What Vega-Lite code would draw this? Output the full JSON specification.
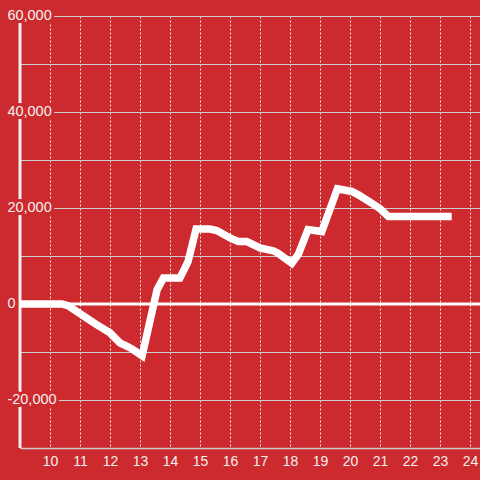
{
  "$schema": "https://vega.github.io/schema/vega-lite/v6.json",
  "width": 460,
  "height": 432,
  "autosize": "none",
  "padding": {"left": 20, "top": 16, "right": 0, "bottom": 32},
  "background": "#cd2a2f",
  "config": {"view": {"stroke": null}, "font": "Liberation Sans"},
  "datasets": {
    "series": [
      {"h": 9, "v": 0}, {"h": 10.4, "v": 0}, {"h": 10.6, "v": -350}, {"h": 11.0, "v": -2000},
      {"h": 11.5, "v": -4100}, {"h": 12.0, "v": -6000}, {"h": 12.33, "v": -8100}, {"h": 12.57, "v": -8800},
      {"h": 12.77, "v": -9500}, {"h": 13.07, "v": -10800}, {"h": 13.57, "v": 3000}, {"h": 13.78, "v": 5400},
      {"h": 14.33, "v": 5400}, {"h": 14.6, "v": 8800}, {"h": 14.87, "v": 15600}, {"h": 15.33, "v": 15600},
      {"h": 15.56, "v": 15300}, {"h": 16.0, "v": 13750}, {"h": 16.28, "v": 13000}, {"h": 16.56, "v": 13000},
      {"h": 17.0, "v": 11700}, {"h": 17.44, "v": 11100}, {"h": 17.6, "v": 10600}, {"h": 18.06, "v": 8500},
      {"h": 18.28, "v": 10400}, {"h": 18.6, "v": 15500}, {"h": 19.06, "v": 15100}, {"h": 19.58, "v": 24000},
      {"h": 20.06, "v": 23450}, {"h": 20.28, "v": 22750}, {"h": 20.72, "v": 21000}, {"h": 21.0, "v": 19850},
      {"h": 21.28, "v": 18250}, {"h": 23.39, "v": 18250}
    ],
    "ylabels": [
      {"v": 60000, "label": "60,000"}, {"v": 40000, "label": "40,000"}, {"v": 20000, "label": "20,000"},
      {"v": 0, "label": "0"}, {"v": -20000, "label": "-20,000"}
    ],
    "one": [{"k": 1}]
  },
  "layer": [
    {
      "data": {"name": "series"},
      "mark": {"type": "line", "color": "#ffffff", "strokeWidth": 7, "strokeCap": "butt", "opacity": 0},
      "encoding": {
        "x": {"field": "h", "type": "quantitative",
          "scale": {"domain": [9, 24.333], "nice": false, "zero": false},
          "axis": {"title": null, "values": [10,11,12,13,14,15,16,17,18,19,20,21,22,23,24],
            "grid": true, "gridColor": "#e8e8e8", "gridDash": [2, 2], "gridWidth": 1, "gridOpacity": 1,
            "domain": true, "domainColor": "#cccccc", "domainWidth": 1.5, "ticks": false, "labelOverlap": false,
            "labelFontSize": 14, "labelColor": "#f0f0f0", "labelPadding": 6, "labelFont": "Liberation Sans"}},
        "y": {"field": "v", "type": "quantitative",
          "scale": {"domain": [-30000, 60000], "nice": false},
          "axis": {"title": null, "values": [-30000,-20000,-10000,0,10000,20000,30000,40000,50000,60000],
            "grid": true, "gridColor": "#cccccc", "gridWidth": 1, "gridOpacity": 1,
            "labels": false, "ticks": false, "domain": false}}
      }
    },
    {
      "data": {"name": "one"},
      "mark": {"type": "rule", "color": "#f0f0f0", "strokeWidth": 3},
      "encoding": {
        "x": {"datum": 9, "type": "quantitative",
          "axis": {"title": null, "values": [10,11,12,13,14,15,16,17,18,19,20,21,22,23,24],
            "grid": true, "gridColor": "#e8e8e8", "gridDash": [2, 2], "gridWidth": 1, "gridOpacity": 1,
            "domain": true, "domainColor": "#cccccc", "domainWidth": 1.5, "ticks": false, "labelOverlap": false,
            "labelFontSize": 14, "labelColor": "#f0f0f0", "labelPadding": 6, "labelFont": "Liberation Sans"}},
        "y": {"datum": -30000, "type": "quantitative",
          "axis": {"title": null, "values": [-30000,-20000,-10000,0,10000,20000,30000,40000,50000,60000],
            "grid": true, "gridColor": "#cccccc", "gridWidth": 1, "gridOpacity": 1,
            "labels": false, "ticks": false, "domain": false}},
        "y2": {"datum": 60000}
      }
    },
    {
      "data": {"name": "one"},
      "mark": {"type": "rule", "color": "#ffffff", "strokeWidth": 3},
      "encoding": {
        "y": {"datum": 0, "type": "quantitative",
          "axis": {"title": null, "values": [-30000,-20000,-10000,0,10000,20000,30000,40000,50000,60000],
            "grid": true, "gridColor": "#cccccc", "gridWidth": 1, "gridOpacity": 1,
            "labels": false, "ticks": false, "domain": false}}
      }
    },
    {
      "data": {"name": "series"},
      "mark": {"type": "line", "color": "#ffffff", "strokeWidth": 7.5, "strokeCap": "butt"},
      "encoding": {
        "x": {"field": "h", "type": "quantitative",
          "axis": {"title": null, "values": [10,11,12,13,14,15,16,17,18,19,20,21,22,23,24],
            "grid": true, "gridColor": "#e8e8e8", "gridDash": [2, 2], "gridWidth": 1, "gridOpacity": 1,
            "domain": true, "domainColor": "#cccccc", "domainWidth": 1.5, "ticks": false, "labelOverlap": false,
            "labelFontSize": 14, "labelColor": "#f0f0f0", "labelPadding": 6, "labelFont": "Liberation Sans"}},
        "y": {"field": "v", "type": "quantitative",
          "axis": {"title": null, "values": [-30000,-20000,-10000,0,10000,20000,30000,40000,50000,60000],
            "grid": true, "gridColor": "#cccccc", "gridWidth": 1, "gridOpacity": 1,
            "labels": false, "ticks": false, "domain": false}}
      }
    },
    {
      "data": {"name": "ylabels"},
      "mark": {"type": "text", "align": "left", "baseline": "middle", "fontSize": 14.5, "font": "Liberation Sans",
        "fill": "#cd2a2f", "stroke": "#cd2a2f", "strokeWidth": 6, "strokeJoin": "round"},
      "encoding": {
        "x": {"datum": 8.58, "type": "quantitative",
          "axis": {"title": null, "values": [10,11,12,13,14,15,16,17,18,19,20,21,22,23,24],
            "grid": true, "gridColor": "#e8e8e8", "gridDash": [2, 2], "gridWidth": 1, "gridOpacity": 1,
            "domain": true, "domainColor": "#cccccc", "domainWidth": 1.5, "ticks": false, "labelOverlap": false,
            "labelFontSize": 14, "labelColor": "#f0f0f0", "labelPadding": 6, "labelFont": "Liberation Sans"}},
        "y": {"field": "v", "type": "quantitative",
          "axis": {"title": null, "values": [-30000,-20000,-10000,0,10000,20000,30000,40000,50000,60000],
            "grid": true, "gridColor": "#cccccc", "gridWidth": 1, "gridOpacity": 1,
            "labels": false, "ticks": false, "domain": false}},
        "text": {"field": "label"}
      }
    },
    {
      "data": {"name": "ylabels"},
      "mark": {"type": "text", "align": "left", "baseline": "middle", "fontSize": 14.5, "font": "Liberation Sans",
        "fill": "#f0f0f0"},
      "encoding": {
        "x": {"datum": 8.58, "type": "quantitative",
          "axis": {"title": null, "values": [10,11,12,13,14,15,16,17,18,19,20,21,22,23,24],
            "grid": true, "gridColor": "#e8e8e8", "gridDash": [2, 2], "gridWidth": 1, "gridOpacity": 1,
            "domain": true, "domainColor": "#cccccc", "domainWidth": 1.5, "ticks": false, "labelOverlap": false,
            "labelFontSize": 14, "labelColor": "#f0f0f0", "labelPadding": 6, "labelFont": "Liberation Sans"}},
        "y": {"field": "v", "type": "quantitative",
          "axis": {"title": null, "values": [-30000,-20000,-10000,0,10000,20000,30000,40000,50000,60000],
            "grid": true, "gridColor": "#cccccc", "gridWidth": 1, "gridOpacity": 1,
            "labels": false, "ticks": false, "domain": false}},
        "text": {"field": "label"}
      }
    }
  ]
}
